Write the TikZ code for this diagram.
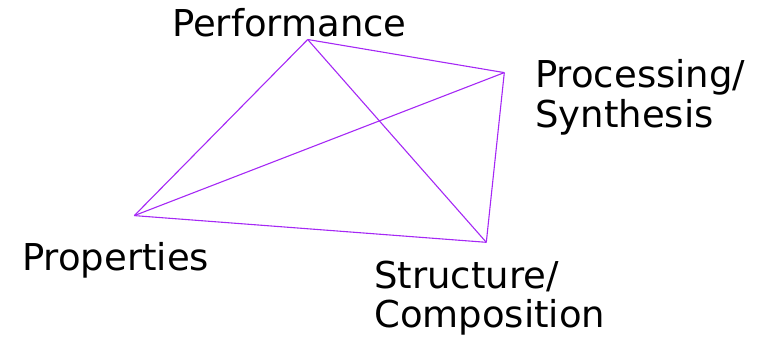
\documentclass[tikz,border=0pt]{standalone}
\usepackage{fontspec}
\setmainfont{DejaVu Sans}
\definecolor{edgecol}{RGB}{165,40,245}
\begin{document}
\begin{tikzpicture}[x=1pt,y=-1pt,
  lbl/.style={inner sep=0pt,anchor=base west,align=left,font=\fontsize{37}{39.5}\selectfont},
  edge/.style={draw=edgecol,line width=1.1pt}]
\useasboundingbox (0,0) rectangle (765,349);
\coordinate (perf) at (307.7,39.5);
\coordinate (proc) at (504.3,72.6);
\coordinate (prop) at (134.3,215.6);
\coordinate (struc) at (486.3,242.3);
\draw[edge] (perf) -- (proc);
\draw[edge] (perf) -- (prop);
\draw[edge] (perf) -- (struc);
\draw[edge] (proc) -- (prop);
\draw[edge] (proc) -- (struc);
\draw[edge] (prop) -- (struc);
\node[lbl] (tperf) at (172,36.7) {Performance};
\node[lbl] (tproc) at (535,127) {Processing/\\Synthesis};
\node[lbl] (tprop) at (22,270) {Properties};
\node[lbl] (tstruc) at (374,327.5) {Structure/\\Composition};
\end{tikzpicture}
\end{document}
